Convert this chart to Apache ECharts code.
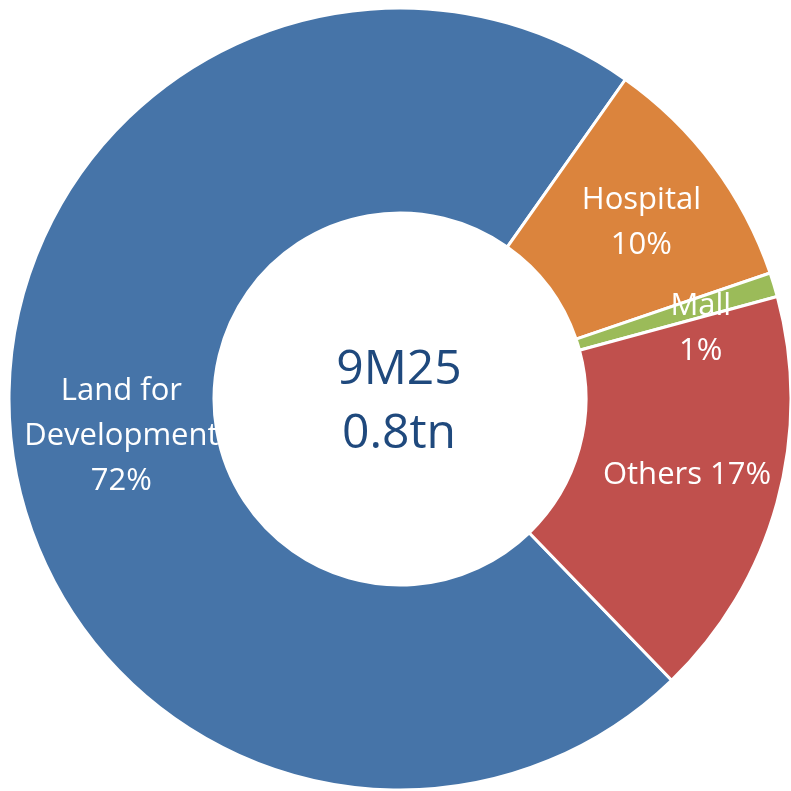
<!DOCTYPE html>
<html>
<head>
<meta charset="utf-8">
<script src="https://cdn.jsdelivr.net/npm/echarts@6/dist/echarts.min.js"></script>
<style>
  html, body { margin: 0; padding: 0; background: #ffffff; }
  #chart { width: 791px; height: 791px; }
</style>
</head>
<body>
<div id="chart"></div>
<script>
// Segment names, shares (%) and colours, clockwise from the lower-left boundary
const categories = ['Land for\nDevelopment', 'Hospital', 'Mall', 'Others'];
const shares = [72, 10, 1, 17];
const colors = ['#4674A8', '#DB843D', '#9BBB59', '#C0504D'];
// Separator between name and percentage in each label
const separators = ['\n', '\n', '\n', ' '];
// Small nudges for each label away from the ring's mid-radius
const labelNudge = [[12, 15], [8, -2], [22, 15], [6, -1]];
const centerLines = ['9M25', '0.8tn'];

const chart = echarts.init(document.getElementById('chart'), null, { renderer: 'canvas' });

const FONT = '"Open Sans", "Noto Sans", sans-serif';

chart.setOption({
  animation: false,
  backgroundColor: '#ffffff',
  series: [{
    type: 'pie',
    center: [400, 399],
    radius: [186, 391],
    startAngle: 314,
    clockwise: true,
    avoidLabelOverlap: false,
    itemStyle: { borderColor: '#ffffff', borderWidth: 3 },
    label: {
      show: true,
      position: 'inside',
      color: '#ffffff',
      fontFamily: FONT,
      fontSize: 31,
      lineHeight: 45,
      align: 'center',
      formatter: p => p.name + separators[p.dataIndex] + p.value + '%'
    },
    labelLayout: p => ({ dx: labelNudge[p.dataIndex][0], dy: labelNudge[p.dataIndex][1] }),
    labelLine: { show: false },
    emphasis: { disabled: true },
    data: categories.map((c, i) => ({
      name: c,
      value: shares[i],
      itemStyle: { color: colors[i] }
    }))
  }],
  graphic: [{
    type: 'text',
    silent: true,
    style: {
      x: 399,
      y: 402,
      text: centerLines.join('\n'),
      fill: '#1F497D',
      font: '48px ' + FONT,
      lineHeight: 64,
      align: 'center',
      verticalAlign: 'middle'
    }
  }]
});
</script>
</body>
</html>
